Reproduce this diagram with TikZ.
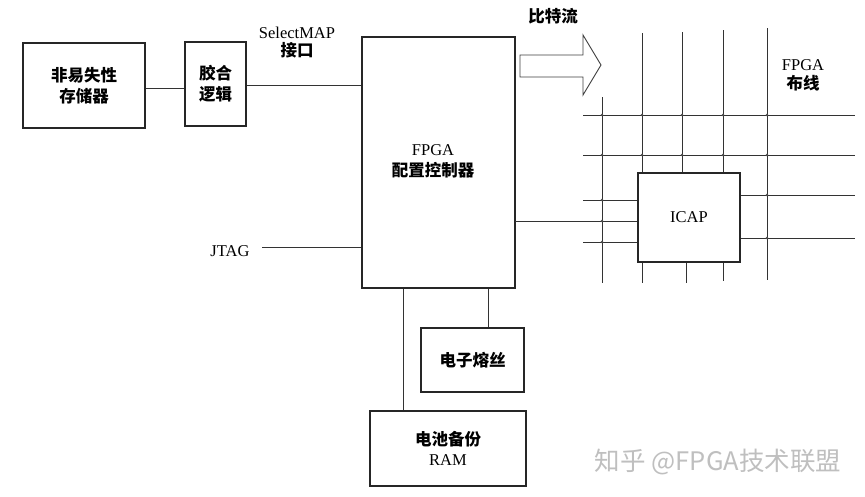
\documentclass[tikz,border=0pt]{standalone}
\usepackage{fontspec}
\setmainfont{Liberation Serif}
\newfontfamily\cjk{Noto Sans CJK SC}
\newfontfamily\wm{Noto Sans CJK SC}
\begin{document}
\begin{tikzpicture}[x=1pt,y=-1pt,
  box/.style={draw=black!85, line width=1.7pt, rectangle, inner sep=0pt, align=center, font=\fontsize{16.5}{20}\selectfont},
  wire/.style={draw=black!80, line width=0.8pt},
  lbl/.style={inner sep=0pt, align=center, font=\fontsize{16.5}{20}\selectfont},
  dot/.style={fill=black!70, circle, inner sep=0pt, minimum size=2.6pt}]
\useasboundingbox (0,0) rectangle (865,496);
\fill[white] (0,0) rectangle (865,496);

% boxes
\node[box, minimum width=122pt, minimum height=85pt] (nvm) at (84,85.5) {{\cjk\bfseries 非易失性}\\[1pt]{\cjk\bfseries 存储器}};
\node[box, minimum width=61pt, minimum height=84pt] (glue) at (215.5,84) {{\cjk\bfseries 胶合}\\[1pt]{\cjk\bfseries 逻辑}};
\node[box, minimum width=153pt, minimum height=251pt] (ctrl) at (438.5,162.5) {};
\node[lbl] (ctrltxt) at (433,161) {FPGA\\[1pt]{\cjk\bfseries 配置控制器}};
\node[box, minimum width=102pt, minimum height=89pt] (icap) at (689,217.5) {ICAP};
\node[box, minimum width=103pt, minimum height=64pt] (efuse) at (472.5,360) {{\cjk\bfseries 电子熔丝}};
\node[box, minimum width=156pt, minimum height=75pt] (ram) at (448,448.5) {{\cjk\bfseries 电池备份}\\RAM};

% labels
\node[lbl] (smap) at (297,43) {SelectMAP\\[-2pt]{\cjk\bfseries 接口}};
\node[lbl] (bits) at (553,16) {{\cjk\bfseries 比特流}};
\node[lbl] (route) at (803,75) {FPGA\\[-1pt]{\cjk\bfseries 布线}};
\node[lbl] (jtag) at (230,251) {JTAG};
\coordinate (jtagend) at (262,247);
\coordinate (ctrlicap) at (515,221);

% connectors
\draw[wire] (nvm.east |- 0,88) -- (glue.west |- 0,88);
\draw[wire] (glue.east |- 0,85) -- (ctrl.west |- 0,85);
\draw[wire] (jtagend) -- (jtagend -| ctrl.west);
\draw[wire] (ctrlicap) -- (ctrlicap -| icap.west);
\draw[wire] (ctrl.south -| 403,0) -- (ram.north -| 403,0);
\draw[wire] (ctrl.south -| 488,0) -- (efuse.north -| 488,0);

% bitstream arrow
\draw[black!75, line width=0.9pt] (520,55) -- (583,55) -- (583,35) -- (601,65) -- (583,95) -- (583,77) -- (520,77) -- cycle;

% routing grid
\draw[wire] (602,97) -- (602,283);
\draw[wire] (642,33) -- (icap.north -| 642,0);
\draw[wire] (icap.south -| 642,0) -- (642,283);
\draw[wire] (682,32) -- (icap.north -| 682,0);
\draw[wire] (icap.south -| 686,0) -- (686,283);
\draw[wire] (723,30) -- (icap.north -| 723,0);
\draw[wire] (icap.south -| 723,0) -- (723,281);
\draw[wire] (767,28) -- (767,280);
\draw[wire] (583,115) -- (855,115);
\draw[wire] (583,155) -- (855,155);
\draw[wire] (583,200) -- (icap.west |- 0,200);
\draw[wire] (583,242) -- (icap.west |- 0,242);
\draw[wire] (icap.east |- 0,195) -- (855,195);
\draw[wire] (icap.east |- 0,238) -- (855,238);
\foreach \x in {602,642,682,723,767} {
  \node[dot] at (\x,115) {};
  \node[dot] at (\x,155) {};
}
\foreach \y in {200,221,242} { \node[dot] at (602,\y) {}; }
\foreach \y in {195,238} { \node[dot] at (767,\y) {}; }

% watermark
\node[inner sep=0pt, text=black!25, font=\wm\fontsize{25.5}{30}\selectfont] (wmark) at (718,462) {知乎 @FPGA技术联盟};
\end{tikzpicture}
\end{document}
